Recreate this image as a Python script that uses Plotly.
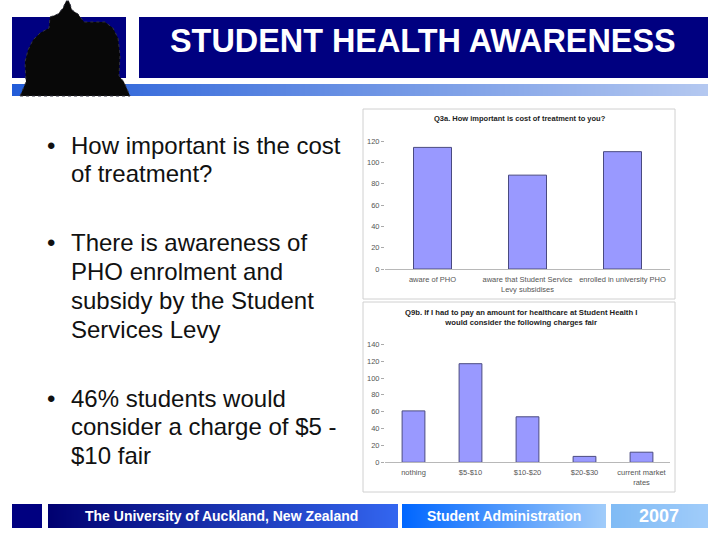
import plotly.graph_objects as go

# Data
top_title = "Q3a. How important is cost of treatment to you?"
top_categories = ["aware of PHO", "aware that Student Service<br>Levy subsidises", "enrolled in university PHO"]
top_values = [114, 88, 110]
top_ticks = [0, 20, 40, 60, 80, 100, 120]

bottom_title = "Q9b. If I had to pay an amount for healthcare at Student Health I<br>would consider the following charges fair"
bottom_categories = ["nothing", "$5-$10", "$10-$20", "$20-$30", "current market<br>rates"]
bottom_values = [61, 117, 54, 7, 12]
bottom_ticks = [0, 20, 40, 60, 80, 100, 120, 140]

slide_title = "STUDENT HEALTH AWARENESS"
bullets = [
    (["How important is the cost", "of treatment?"], 145),
    (["There is awareness of", "PHO enrolment and", "subsidy by the Student", "Services Levy"], 243),
    (["46% students would", "consider a charge of $5 -", "$10 fair"], 398),
]

W, H = 720, 540
px = lambda x: x / W
py = lambda y: 1 - y / H


def rect(x0, y0, x1, y1, fill, line=None, layer="below"):
    return dict(type="rect", xref="paper", yref="paper", x0=px(x0), x1=px(x1), y0=py(y1), y1=py(y0),
                fillcolor=fill, line=dict(color=line or fill, width=1 if line else 0), layer=layer)


def mix(a, b, t):
    return "rgb(%d,%d,%d)" % tuple(round(a[i] + (b[i] - a[i]) * t) for i in range(3))


def gradient(x0, y0, x1, y1, a, b, stops=None):
    out = []
    n = stops or int(x1 - x0)
    w = (x1 - x0) / n
    for i in range(n):
        out.append(rect(x0 + i * w, y0, min(x0 + (i + 1) * w + 0.5, x1), y1, mix(a, b, i / max(n - 1, 1))))
    return out


shapes = []
shapes.append(rect(12, 17, 126, 78, "#000080"))
shapes.append(rect(139, 17, 708, 78, "#000080"))
shapes += gradient(12, 84, 708, 96, (0x22, 0x5c, 0xd8), (0xb4, 0xc8, 0xf0))
shapes.append(rect(12, 504, 42, 528, "#000080"))
shapes += gradient(48, 504, 398, 528, (0x00, 0x00, 0x70), (0x33, 0x66, 0xf0))
shapes += gradient(402, 504, 606, 528, (0x00, 0x66, 0xff), (0xa0, 0xcc, 0xfa))
shapes += gradient(611, 504, 708, 528, (0x80, 0xbb, 0xf5), (0xa0, 0xcc, 0xfa))


def to_path(points):
    return "M " + " L ".join(f"{px(x):.4f},{py(y):.4f}" for x, y in points) + " Z"


# Clock-tower silhouette logo
tree = [(20, 96), (26, 82), (25, 62), (28, 50), (33, 40), (40, 33), (49, 28), (50, 17), (58, 14), (63, 8), (66, 1),
        (69, 1), (72, 10), (78, 14), (84, 22), (105, 22), (113, 28), (118, 38), (120, 55), (119, 76), (124, 82),
        (130, 96)]
shapes.append(dict(type="path", xref="paper", yref="paper", path=to_path(tree),
                   fillcolor="#080808", line=dict(color="#333340", width=1, dash="dot"), layer="below"))

# Chart panels
shapes.append(rect(363, 109, 675, 299, "#ffffff", "#d0d0d0"))
shapes.append(rect(363, 302, 675, 492, "#ffffff", "#d0d0d0"))

annotations = []


def text(x, y, s, size, color="#000000", weight="normal", anchor="left", align="left", family="Liberation Sans"):
    annotations.append(dict(xref="paper", yref="paper", x=px(x), y=py(y), text=s, showarrow=False,
                            xanchor=anchor, yanchor="middle", align=align,
                            font=dict(family=family, size=size, color=color, weight=weight)))


text(423, 41, slide_title, 32.4, "#ffffff", "bold", "center", "center")
for lines, y0 in bullets:
    text(45, y0, "•", 24, "#111111")
    for i, line in enumerate(lines):
        text(69, y0 + i * 28.7, line, 24, "#111111")

text(221.5, 516, "The University of Auckland, New Zealand", 14, "#ffffff", "bold", "center", "center")
text(504, 516, "Student Administration", 14, "#ffffff", "bold", "center", "center")
text(659, 516, "2007", 18, "#ffffff", "bold", "center", "center")

text(520, 119, top_title, 7.5, "#222222", "bold", "center", "center")
text(521, 317, bottom_title, 7.7, "#222222", "bold", "center", "center")

fig = go.Figure()
bar_style = dict(marker=dict(color="#9999ff", line=dict(color="#4a4a80", width=1)), width=0.4, showlegend=False)
fig.add_trace(go.Bar(x=top_categories, y=top_values, xaxis="x", yaxis="y", **bar_style))
fig.add_trace(go.Bar(x=bottom_categories, y=bottom_values, xaxis="x2", yaxis="y2", **bar_style))

xstyle = dict(showgrid=False, zeroline=False, showline=True, linecolor="#b8b8b8", linewidth=1, ticks="",
              ticklabelstandoff=3,
              tickfont=dict(family="Liberation Sans", size=7.5, color="#555555"), fixedrange=True, tickangle=0)
ystyle = dict(showgrid=False, zeroline=False, showline=False, ticks="outside", ticklen=3, tickcolor="#aaaaaa",
              tickfont=dict(family="Liberation Sans", size=7.5, color="#555555"), fixedrange=True)

fig.update_layout(
    width=W, height=H, margin=dict(l=0, r=0, t=0, b=0, autoexpand=False), paper_bgcolor="#ffffff",
    plot_bgcolor="rgba(0,0,0,0)", shapes=shapes, annotations=annotations, bargap=0.6,
    xaxis=dict(domain=[px(385), px(670)], anchor="y", **xstyle),
    yaxis=dict(domain=[py(269), py(141)], anchor="x", range=[0, 120], tickvals=top_ticks, **ystyle),
    xaxis2=dict(domain=[px(385), px(670)], anchor="y2", **xstyle),
    yaxis2=dict(domain=[py(462.3), py(344.3)], anchor="x2", range=[0, 140], tickvals=bottom_ticks, **ystyle),
)

fig.write_html("out.html", config={"displayModeBar": False}, post_script="document.body.style.margin='0';")
